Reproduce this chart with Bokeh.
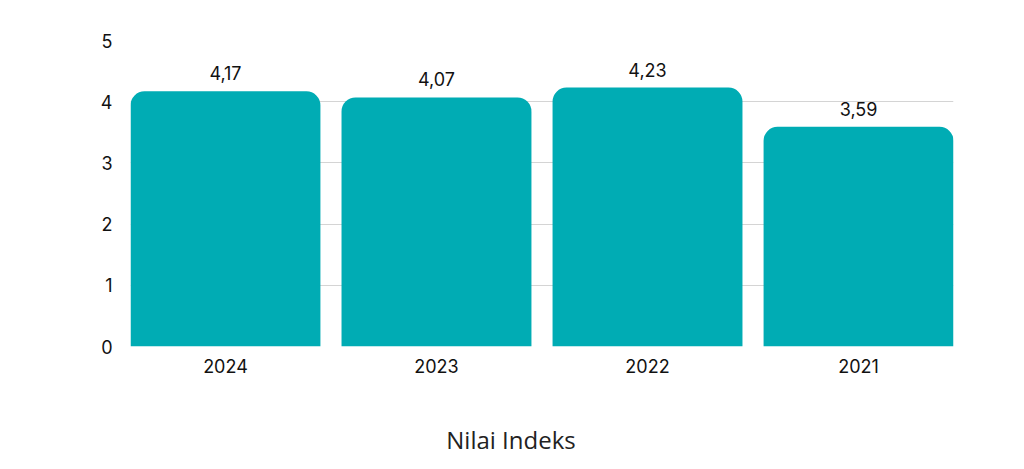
from bokeh.plotting import figure
from bokeh.models import ColumnDataSource, FixedTicker, Range1d, Div
from bokeh.layouts import column
from bokeh.core.properties import value
from bokeh.embed import file_html
from bokeh.resources import INLINE

years = ["2024", "2023", "2022", "2021"]
scores = [4.17, 4.07, 4.23, 3.59]
score_labels = ["4,17", "4,07", "4,23", "3,59"]
y_ticks = [0, 1, 2, 3, 4, 5]
title_text = "Nilai Indeks"

xs = list(range(len(years)))
src = ColumnDataSource(dict(x=xs, top=scores, lab=score_labels))

p = figure(width=1008, height=386, output_backend="svg", toolbar_location=None,
           x_range=Range1d(-0.45, len(years) - 0.55), y_range=Range1d(0, 5),
           min_border_left=130, min_border_right=55, min_border_top=40, min_border_bottom=40)
p.outline_line_color = None
p.background_fill_color = "white"
p.border_fill_color = "white"

p.vbar(x="x", top="top", width=0.9, bottom=0, source=src, color="#00ACB4",
       line_color=None, border_radius=(14, 14, 0, 0))
p.text(x="x", y="top", text="lab", source=src, text_align="center", text_baseline="bottom",
       y_offset=-11, text_font=value("Inter"), text_font_size="18px", text_color="#111111")

p.xaxis.ticker = FixedTicker(ticks=xs)
p.xaxis.major_label_overrides = {i: y for i, y in enumerate(years)}
p.yaxis.ticker = FixedTicker(ticks=y_ticks)
for ax in (p.xaxis, p.yaxis):
    ax.axis_line_color = None
    ax.major_tick_line_color = None
    ax.minor_tick_line_color = None
    ax.major_label_text_font = "Inter"
    ax.major_label_text_font_size = "18px"
    ax.major_label_text_color = "#111111"
p.xaxis.major_label_standoff = 6
p.yaxis.major_label_standoff = 12

p.xgrid.grid_line_color = None
p.ygrid.ticker = FixedTicker(ticks=y_ticks)
p.ygrid.grid_line_color = "#d4d4d4"
p.ygrid.grid_line_width = 1

title_div = Div(
    text=('<div style="display:block;width:1022px;text-align:center;font-family:\'Open Sans\';'
          'font-size:24px;line-height:30px;color:#222222;padding-top:39px;">'
          + title_text + '</div>'),
    width=1022, height=80, margin=0)

layout = column(p, title_div, spacing=0)
open("out.html", "w").write(file_html(layout, INLINE))
